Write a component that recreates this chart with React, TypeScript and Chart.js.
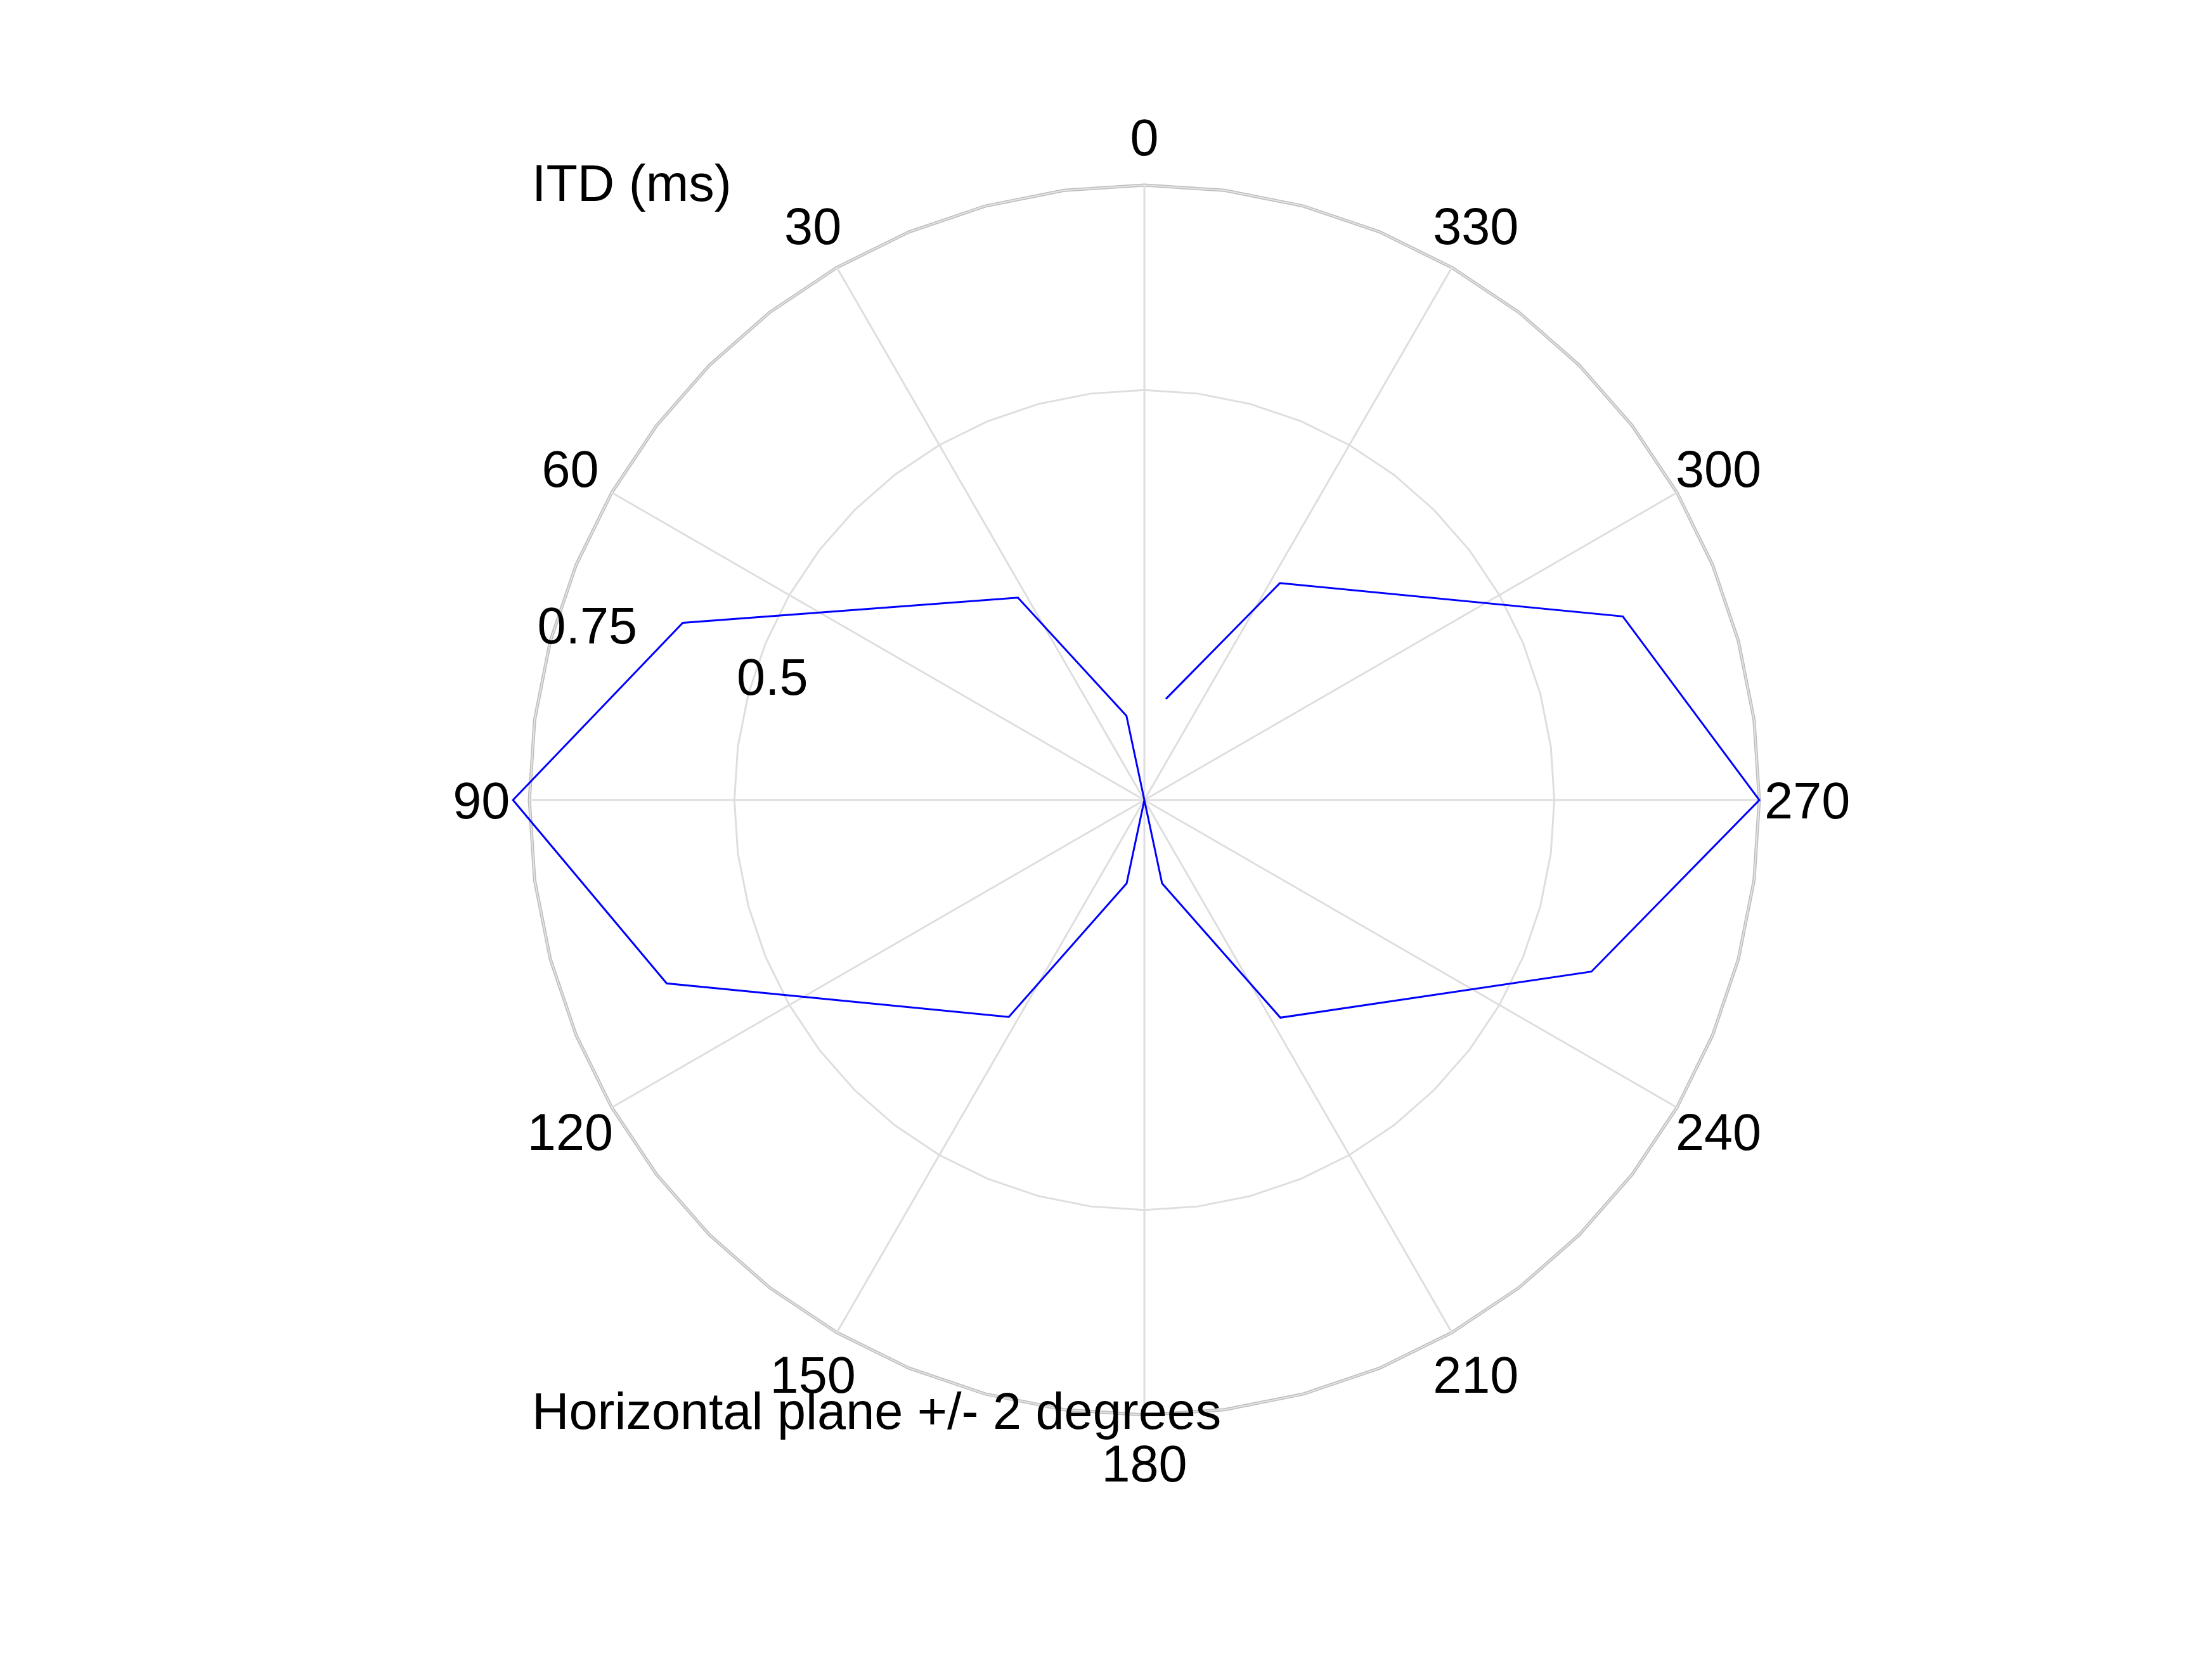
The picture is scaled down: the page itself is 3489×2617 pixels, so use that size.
import { useEffect, useRef } from "react"
import { Chart, registerables } from "chart.js"
import type { Plugin } from "chart.js"

Chart.register(...registerables)

// azimuth in degrees, counter-clockwise from the front, in the order the trace is drawn
const azimuths = [348, 328, 291, 270, 249, 212, 192, 180, 168, 148, 111, 90, 69, 32, 12, 0]
// interaural time difference (ms) at each azimuth
const itdValues = [0.126, 0.312, 0.625, 0.75, 0.584, 0.313, 0.104, 0, 0.104, 0.312, 0.624, 0.77, 0.603, 0.291, 0.105, 0]

// spoke labels, going round clockwise from the top
const angleTickLabels = ["0", "330", "300", "270", "240", "210", "180", "150", "120", "90", "60", "30"]
// rings that are drawn and labelled
const radialTicks = [0.5, 0.75]
const rMax = 0.75

const yLabel = "ITD (ms)"
const xLabel = "Horizontal plane +/- 2 degrees"

// the rim is a polygon with this many vertices per spoke
const stepsPerSpoke = 4
const rimLabels = angleTickLabels.flatMap((l) => [l, ...Array(stepsPerSpoke - 1).fill("")])

const FONT = '81px "Liberation Sans", Arial, Helvetica, sans-serif'
const DIGIT_MID = 0.358 * 81

// lighter core on the outer ring, so it reads as a double line
const rimCore: Plugin = {
  id: "rimCore",
  beforeDatasetsDraw(chart) {
    const r: any = chart.scales.r
    const ctx = chart.ctx
    const D = r.getDistanceFromCenterForValue(rMax)
    ctx.save()
    ctx.beginPath()
    rimLabels.forEach((_, i) => {
      const p = r.getPointPosition(i, D)
      if (i === 0) ctx.moveTo(p.x, p.y)
      else ctx.lineTo(p.x, p.y)
    })
    ctx.closePath()
    ctx.strokeStyle = "#e4e4e4"
    ctx.lineWidth = 2
    ctx.stroke()
    ctx.restore()
  },
}

const polarText: Plugin = {
  id: "polarText",
  afterDraw(chart) {
    const r: any = chart.scales.r
    const ctx = chart.ctx
    const D = r.drawingArea
    ctx.save()
    ctx.font = FONT
    ctx.fillStyle = "#000"
    ctx.textBaseline = "alphabetic"
    ctx.textAlign = "center"

    // spoke labels just outside the rim
    rimLabels.forEach((label, i) => {
      if (!label) return
      const p = r.getPointPosition(i, D * 1.078)
      ctx.fillText(label, p.x, p.y + DIGIT_MID)
    })

    // ring labels, up the left side
    const a = (74.5 * Math.PI) / 180
    radialTicks.forEach((v) => {
      const d = r.getDistanceFromCenterForValue(v) * 0.937
      const x = r.xCenter - d * Math.sin(a) - 0.003 * D
      const y = r.yCenter - d * Math.cos(a) - 0.034 * D
      ctx.fillText(String(v), x, y + DIGIT_MID)
    })

    ctx.textAlign = "left"
    ctx.fillText(yLabel, r.xCenter - 0.996 * D, r.yCenter - 0.974 * D)
    ctx.fillText(xLabel, r.xCenter - 0.996 * D, r.yCenter + 1.0227 * D)
    ctx.restore()
  },
}

export default function App() {
  const chartRef = useRef<HTMLCanvasElement>(null)
  const chartInstance = useRef<Chart | null>(null)

  useEffect(() => {
    document.body.style.margin = "0"
    if (!chartRef.current) return

    if (chartInstance.current) {
      chartInstance.current.destroy()
    }

    const ctx = chartRef.current.getContext("2d")
    if (!ctx) return

    const toRad = Math.PI / 180
    const points = azimuths.map((az, i) => ({
      x: -itdValues[i] * Math.sin(az * toRad),
      y: itdValues[i] * Math.cos(az * toRad),
    }))

    chartInstance.current = new Chart(ctx, {
      type: "scatter",
      data: {
        labels: rimLabels,
        datasets: [
          {
            data: points,
            showLine: true,
            borderColor: "#0000ff",
            borderWidth: 3,
            pointRadius: 0,
            pointHoverRadius: 0,
            tension: 0,
            clip: false,
          },
        ],
      },
      options: {
        animation: false,
        responsive: true,
        maintainAspectRatio: false,
        events: [],
        layout: {
          padding: { left: 835, right: 714, top: 292, bottom: 385 },
        },
        plugins: {
          legend: { display: false },
          tooltip: { enabled: false },
        },
        scales: {
          x: { type: "linear", display: false, min: -rMax, max: rMax },
          y: { type: "linear", display: false, min: -rMax, max: rMax },
          r: {
            type: "radialLinear",
            min: 0,
            max: rMax,
            afterBuildTicks: (scale: any) => {
              scale.ticks = [0, ...radialTicks].map((value) => ({ value }))
            },
            ticks: { display: false },
            pointLabels: { display: false },
            grid: {
              circular: false,
              color: (c: any) => (c.tick && c.tick.value === rMax ? "#bdbdbd" : "#dedede"),
              lineWidth: (c: any) => (c.tick && c.tick.value === rMax ? 5 : 3),
            },
            angleLines: {
              color: "#dedede",
              lineWidth: (c: any) => (c.index % stepsPerSpoke === 0 ? 3 : 0),
            },
          },
        },
      },
      plugins: [rimCore, polarText],
    })

    return () => {
      if (chartInstance.current) {
        chartInstance.current.destroy()
        chartInstance.current = null
      }
    }
  }, [])

  return (
    <div style={{ position: "relative", width: "100vw", height: "100vh", background: "#fff" }}>
      <canvas ref={chartRef} />
    </div>
  )
}
